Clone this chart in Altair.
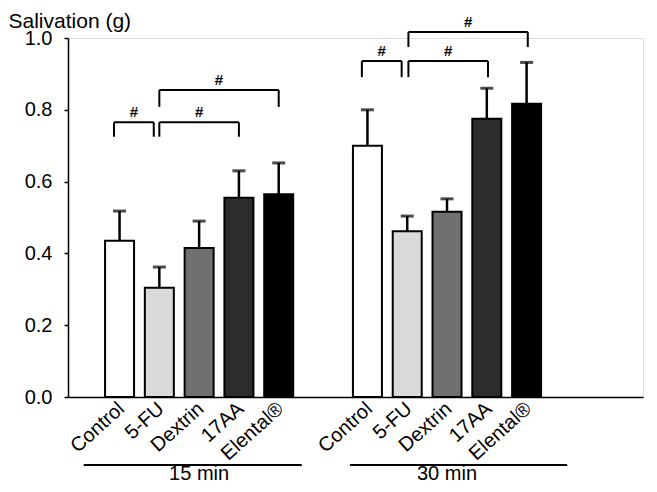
import altair as alt
import pandas as pd

# ---------------- data ----------------
categories = ["Control", "5-FU", "Dextrin", "17AA", "Elental®"]
groups = ["15 min", "30 min"]
mean_15 = [0.435, 0.304, 0.415, 0.555, 0.565]
err_15 = [0.083, 0.058, 0.075, 0.075, 0.087]
mean_30 = [0.700, 0.462, 0.516, 0.775, 0.817]
err_30 = [0.100, 0.042, 0.036, 0.085, 0.115]
y_ticks = [0.0, 0.2, 0.4, 0.6, 0.8, 1.0]

cmp_group = ["15 min", "15 min", "15 min", "30 min", "30 min", "30 min"]
cmp_from = ["Control", "5-FU", "5-FU", "Control", "5-FU", "5-FU"]
cmp_to = ["5-FU", "17AA", "Elental®", "5-FU", "17AA", "Elental®"]
cmp_top = [0.765, 0.765, 0.855, 0.936, 0.936, 1.017]
cmp_leg = [0.725, 0.725, 0.808, 0.891, 0.891, 0.975]
cmp_mark = ["#", "#", "#", "#", "#", "#"]

# ---------------- layout / style ----------------
fills = ["#ffffff", "#d9d9d9", "#707070", "#2c2c2c", "#000000"]
group_offset = {"15 min": 0.0, "30 min": 6.23}
bracket_shift = [-0.14, 0.0, 0.0, -0.14, 0.03, 0.03]
group_line_start = [-0.9, -0.44]
group_line_end = [4.58, 5.02]
X_DOMAIN = [-1.17, 13.03]
W, H = 575, 359
FONT = "Liberation Sans"


def pos(g, c):
    return group_offset[g] + categories.index(c)


rows = []
for g, means, errs in [("15 min", mean_15, err_15), ("30 min", mean_30, err_30)]:
    for c, m, e in zip(categories, means, errs):
        rows.append({"group": g, "category": c, "mean": m, "top": m + e, "x": pos(g, c)})
bars = pd.DataFrame(rows)

brk = []
for i in range(len(cmp_group)):
    a = pos(cmp_group[i], cmp_from[i]) + bracket_shift[i]
    b = pos(cmp_group[i], cmp_to[i]) + bracket_shift[i]
    brk.append({"a": a, "b": b, "mid": (a + b) / 2, "top": cmp_top[i], "leg": cmp_leg[i], "mark": cmp_mark[i]})
brackets = pd.DataFrame(brk)
legs = pd.concat([
    brackets[["a", "top", "leg"]].rename(columns={"a": "xx"}),
    brackets[["b", "top", "leg"]].rename(columns={"b": "xx"}),
])

grp = pd.DataFrame({
    "group": groups,
    "start": [group_offset[g] + s for g, s in zip(groups, group_line_start)],
    "end": [group_offset[g] + e for g, e in zip(groups, group_line_end)],
    "mid": [group_offset[g] + 2 for g in groups],
})

xscale = alt.Scale(domain=X_DOMAIN, nice=False, zero=False)
yscale = alt.Scale(domain=[0, 1.0], nice=False)

xaxis = alt.Axis(labels=False, ticks=False, grid=False, title=None,
                 domainColor="black", domainWidth=1.5)
yaxis = alt.Axis(values=y_ticks, format=".1f", grid=False, title="Salivation (g)",
                 titleAngle=0, titleAlign="left", titleBaseline="alphabetic",
                 titleX=-60, titleY=-11, titleFontSize=21, titleFontWeight="normal",
                 titleColor="black", titleFont=FONT, labelFont=FONT,
                 labelFontSize=20, labelColor="black", tickColor="black",
                 tickSize=4, tickWidth=1.5, labelPadding=12,
                 domainColor="black", domainWidth=1.5)

base_bars = alt.Chart(bars)

bar_layer = base_bars.mark_bar(size=29, stroke="black", strokeWidth=2, orient="vertical").encode(
    x=alt.X("x:Q", scale=xscale, axis=xaxis),
    y=alt.Y("mean:Q", scale=yscale, axis=yaxis),
    fill=alt.Fill("category:N", scale=alt.Scale(domain=categories, range=fills), legend=None),
)

stem = base_bars.mark_rule(color="black", strokeWidth=2.5).encode(
    x=alt.X("x:Q", scale=xscale),
    y=alt.Y("mean:Q", scale=yscale),
    y2="top:Q",
)

cap = base_bars.mark_tick(color="black", size=13, thickness=3, orient="horizontal").encode(
    x=alt.X("x:Q", scale=xscale),
    y=alt.Y("top:Q", scale=yscale),
)

cat_labels = base_bars.mark_text(angle=318, align="right", baseline="middle",
                                 fontSize=20, font=FONT, color="black", xOffset=2).encode(
    x=alt.X("x:Q", scale=xscale),
    y=alt.value(H + 9),
    text="category:N",
)

br_h = alt.Chart(brackets).mark_rule(color="black", strokeWidth=2).encode(
    x=alt.X("a:Q", scale=xscale), x2="b:Q", y=alt.Y("top:Q", scale=yscale),
)
br_v = alt.Chart(legs).mark_rule(color="black", strokeWidth=2).encode(
    x=alt.X("xx:Q", scale=xscale), y=alt.Y("leg:Q", scale=yscale), y2="top:Q",
)
br_t = alt.Chart(brackets).mark_text(fontSize=15, fontWeight="bold", font=FONT,
                                     baseline="alphabetic", dy=-5, color="black").encode(
    x=alt.X("mid:Q", scale=xscale), y=alt.Y("top:Q", scale=yscale), text="mark:N",
)

g_line = alt.Chart(grp).mark_rule(color="black", strokeWidth=2).encode(
    x=alt.X("start:Q", scale=xscale), x2="end:Q", y=alt.value(H + 68),
)
g_text = alt.Chart(grp).mark_text(fontSize=20, font=FONT, baseline="alphabetic", color="black").encode(
    x=alt.X("mid:Q", scale=xscale), y=alt.value(H + 83), text="group:N",
)

chart = alt.layer(bar_layer, stem, cap, cat_labels, br_h, br_v, br_t, g_line, g_text).properties(
    width=W, height=H,
    autosize=alt.AutoSizeParams(type="none"),
    padding={"left": 60, "top": 30, "right": 6, "bottom": 87},
).configure_view(stroke=None).configure(font=FONT)

chart.save("out.html", embed_options={"renderer": "svg", "actions": False})
